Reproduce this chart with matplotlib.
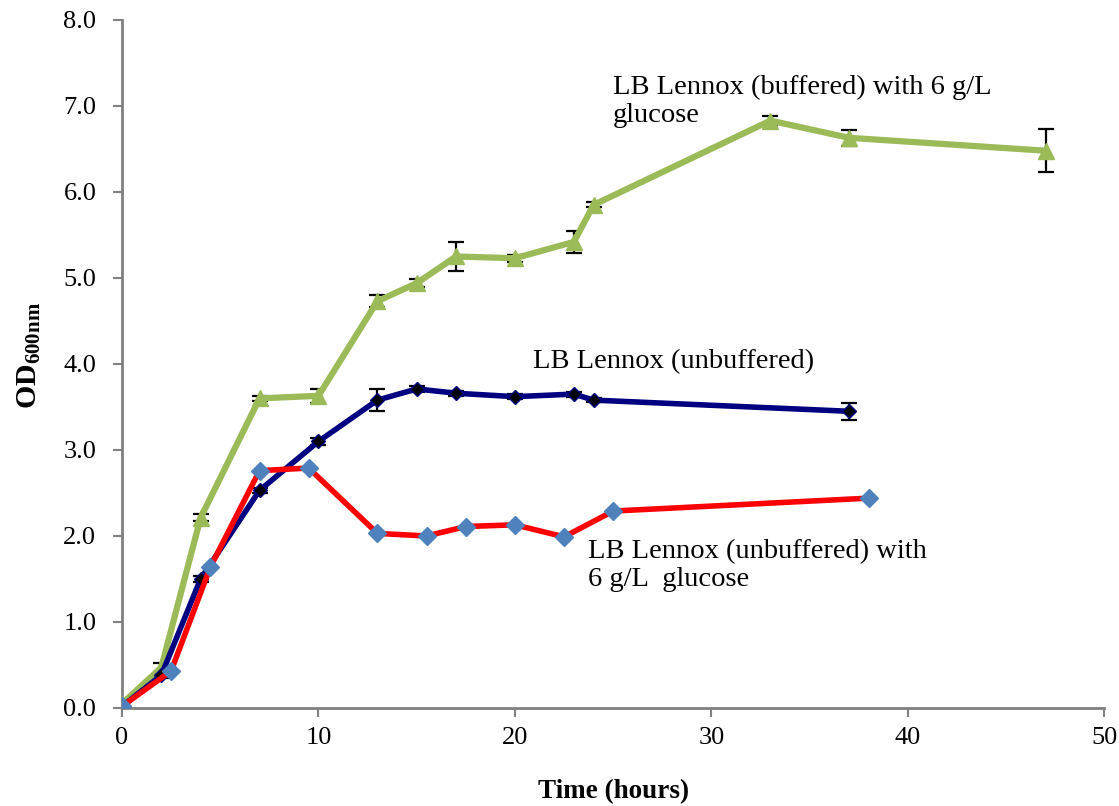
import matplotlib
matplotlib.use('Agg')
import matplotlib.pyplot as plt
import numpy as np

plt.rcParams['font.family'] = ['Liberation Serif', 'DejaVu Serif']
plt.rcParams['mathtext.fontset'] = 'custom'
plt.rcParams['mathtext.rm'] = 'Liberation Serif'
plt.rcParams['mathtext.bf'] = 'Liberation Serif:bold'

# LB Lennox (buffered) with 6 g/L glucose
t_buf = [0, 2, 4, 7, 10, 13, 15, 17, 20, 23, 24, 33, 37, 47]
od_buf = [0.05, 0.47, 2.21, 3.60, 3.63, 4.73, 4.94, 5.25, 5.23, 5.42, 5.85, 6.83, 6.63, 6.48]
err_buf = [0.02, 0.05, 0.04, 0.03, 0.08, 0.07, 0.05, 0.17, 0.04, 0.13, 0.03, 0.05, 0.09, 0.25]

# LB Lennox (unbuffered)
t_unb = [0, 2, 4, 7, 10, 13, 15, 17, 20, 23, 24, 37]
od_unb = [0.02, 0.38, 1.50, 2.53, 3.10, 3.58, 3.71, 3.66, 3.62, 3.65, 3.58, 3.45]
err_unb = [0.01, 0.03, 0.03, 0.03, 0.04, 0.13, 0.03, 0.03, 0.03, 0.03, 0.02, 0.10]

# LB Lennox (unbuffered) with 6 g/L glucose
t_glc = [0, 2.5, 4.5, 7, 9.5, 13, 15.5, 17.5, 20, 22.5, 25, 38]
od_glc = [0.02, 0.43, 1.64, 2.76, 2.79, 2.03, 2.00, 2.11, 2.13, 1.99, 2.29, 2.44]

fig = plt.figure(figsize=(11.19, 8.06), dpi=100)
ax = fig.add_axes([0.109, 0.1216, 0.878, 0.8536])

ax.errorbar(t_buf, od_buf, yerr=err_buf, fmt='none', ecolor='black', elinewidth=1.6, capsize=6, capthick=1.6, zorder=2)
ax.errorbar(t_unb, od_unb, yerr=err_unb, fmt='none', ecolor='black', elinewidth=1.6, capsize=6, capthick=1.6, zorder=2)

ax.plot(t_buf, od_buf, color='#9BBB59', lw=4.5, marker='^', markersize=11, markerfacecolor='#9BBB59', markeredgecolor='#9BBB59', zorder=3)
ax.plot(t_unb, od_unb, color='#000080', lw=4, marker='D', markersize=7, markerfacecolor='black', markeredgecolor='#000080', zorder=4)
ax.plot(t_glc, od_glc, color='#FF0000', lw=4, marker='D', markersize=9, markerfacecolor='#4F81BD', markeredgecolor='#4F81BD', zorder=5)

ax.text(25.0, 7.05, 'LB Lennox (buffered) with 6 g/L\nglucose', fontsize=20.5, linespacing=1.15, va='center', ha='left')
ax.text(20.9, 4.03, 'LB Lennox (unbuffered)', fontsize=20.5, va='center', ha='left')
ax.text(23.7, 1.66, 'LB Lennox (unbuffered) with\n6 g/L  glucose', fontsize=20.5, linespacing=1.15, va='center', ha='left')

ax.set_xlim(0, 50)
ax.set_ylim(0, 8)
ax.set_xticks(np.arange(0, 51, 10))
ax.set_yticks(np.arange(0, 8.1, 1.0))
ax.set_yticklabels(['%.1f' % v for v in np.arange(0, 8.1, 1.0)])
ax.tick_params(direction='out', length=6.5, width=1.5, color='#808080', labelsize=19)
ax.tick_params(axis='x', pad=7)
ax.tick_params(axis='y', pad=12)

for side in ['top', 'right']:
    ax.spines[side].set_visible(False)
for side in ['left', 'bottom']:
    ax.spines[side].set_color('#808080')
    ax.spines[side].set_linewidth(2)

ax.set_xlabel('Time (hours)', fontsize=19.5, fontweight='bold', labelpad=22)
ax.set_ylabel(r'$\mathbf{OD_{600nm}}$', fontsize=21.5)
ax.yaxis.set_label_coords(-0.08, 0.513)

fig.savefig('out.png', dpi=100)
